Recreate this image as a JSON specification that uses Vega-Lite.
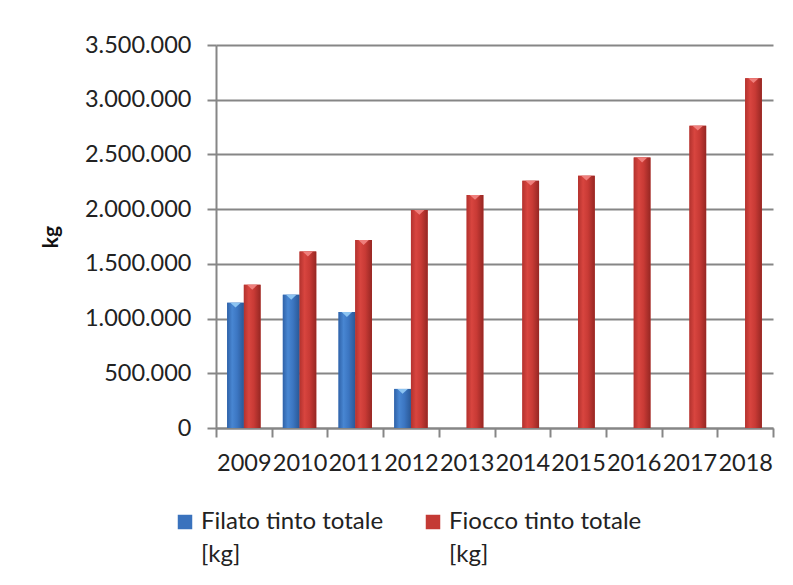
{
  "$schema": "https://vega.github.io/schema/vega-lite/v6.json",
  "autosize": {"type": "none"},
  "width": 557,
  "height": 383,
  "padding": {"left": 216, "top": 45, "right": 20, "bottom": 157},
  "background": "white",
  "config": {
    "locale": {"number": {"decimal": ",", "thousands": ".", "grouping": [3], "currency": ["€", ""]}},
    "view": {"stroke": null},
    "font": "Lato",
    "style": {"guide-label": {"lineHeight": 33}}
  },
  "data": {
    "values": [
      {"anno": "2009", "serie": "Filato tinto totale", "kg": 1145000},
      {"anno": "2010", "serie": "Filato tinto totale", "kg": 1217000},
      {"anno": "2011", "serie": "Filato tinto totale", "kg": 1060000},
      {"anno": "2012", "serie": "Filato tinto totale", "kg": 357000},
      {"anno": "2009", "serie": "Fiocco tinto totale", "kg": 1308000},
      {"anno": "2010", "serie": "Fiocco tinto totale", "kg": 1612000},
      {"anno": "2011", "serie": "Fiocco tinto totale", "kg": 1718000},
      {"anno": "2012", "serie": "Fiocco tinto totale", "kg": 1993000},
      {"anno": "2013", "serie": "Fiocco tinto totale", "kg": 2130000},
      {"anno": "2014", "serie": "Fiocco tinto totale", "kg": 2260000},
      {"anno": "2015", "serie": "Fiocco tinto totale", "kg": 2306000},
      {"anno": "2016", "serie": "Fiocco tinto totale", "kg": 2471000},
      {"anno": "2017", "serie": "Fiocco tinto totale", "kg": 2763000},
      {"anno": "2018", "serie": "Fiocco tinto totale", "kg": 3197000}
    ]
  },
  "encoding": {
    "x": {
      "field": "anno",
      "type": "nominal",
      "scale": {"paddingInner": 0, "paddingOuter": 0},
      "axis": {
        "title": null,
        "labelAngle": 0,
        "tickBand": "extent",
        "tickSize": 9,
        "tickWidth": 2,
        "tickColor": "#868686",
        "domainColor": "#868686",
        "domainWidth": 2,
        "labelFont": "Lato",
        "labelFontSize": 23.5,
        "labelColor": "#222222",
        "labelPadding": 14,
        "labelOverlap": false,
        "grid": false
      }
    },
    "xOffset": {
      "field": "serie",
      "type": "nominal",
      "scale": {"domain": ["Filato tinto totale", "Fiocco tinto totale"], "paddingInner": 0, "paddingOuter": 0.667}
    },
    "y": {
      "field": "kg",
      "type": "quantitative",
      "scale": {"domain": [0, 3500000], "nice": false},
      "axis": {
        "title": "kg",
        "titleFont": "Lato",
        "titleFontSize": 21,
        "titleFontWeight": "bold",
        "titleColor": "#111111",
        "titlePadding": 23,
        "values": [0, 500000, 1000000, 1500000, 2000000, 2500000, 3000000, 3500000],
        "format": ",d",
        "labelFont": "Lato",
        "labelFontSize": 23.5,
        "labelColor": "#222222",
        "labelPadding": 16,
        "tickSize": 9,
        "tickWidth": 2,
        "tickColor": "#868686",
        "domainColor": "#868686",
        "domainWidth": 2,
        "gridColor": "#868686",
        "gridWidth": 2
      }
    }
  },
  "layer": [
    {
      "mark": {"type": "bar"},
      "encoding": {
        "color": {
          "field": "serie",
          "type": "nominal",
          "scale": {
            "domain": ["Filato tinto totale", "Fiocco tinto totale"],
            "range": ["#3a72bd", "#c43a35"]
          },
          "legend": {
            "title": null,
            "orient": "none",
            "legendX": -43,
            "legendY": 465,
            "direction": "horizontal",
            "columns": 2,
            "columnPadding": 37,
            "symbolType": "square",
            "symbolSize": 210,
            "symbolStrokeWidth": 0,
            "labelFont": "Lato",
            "labelFontSize": 24,
            "labelColor": "#222222",
            "labelOffset": 4,
            "labelLimit": 0,
            "labelExpr": "[datum.label, '[kg]']"
          }
        }
      }
    },
    {
      "transform": [{"filter": "datum.serie == 'Filato tinto totale'"}],
      "mark": {
        "type": "bar",
        "color": {"gradient": "linear", "x1": 0, "y1": 0, "x2": 1, "y2": 0,
          "stops": [
            {"offset": 0, "color": "#2f62a8"},
            {"offset": 0.3, "color": "#4886d2"},
            {"offset": 0.6, "color": "#3c76c2"},
            {"offset": 1, "color": "#2a5896"}
          ]}
      }
    },
    {
      "transform": [{"filter": "datum.serie == 'Fiocco tinto totale'"}],
      "mark": {
        "type": "bar",
        "color": {"gradient": "linear", "x1": 0, "y1": 0, "x2": 1, "y2": 0,
          "stops": [
            {"offset": 0, "color": "#b3322e"},
            {"offset": 0.3, "color": "#d8453f"},
            {"offset": 0.6, "color": "#c83a35"},
            {"offset": 1, "color": "#962723"}
          ]}
      }
    },
    {
      "mark": {"type": "point", "filled": true, "opacity": 1, "shape": "M-0.85,0L0.85,0L0,0.8Z", "size": 150},
      "encoding": {
        "fill": {
          "field": "serie",
          "type": "nominal",
          "scale": {"domain": ["Filato tinto totale", "Fiocco tinto totale"], "range": ["#8cc4f2", "#ef7f7c"]},
          "legend": null
        }
      }
    }
  ]
}
